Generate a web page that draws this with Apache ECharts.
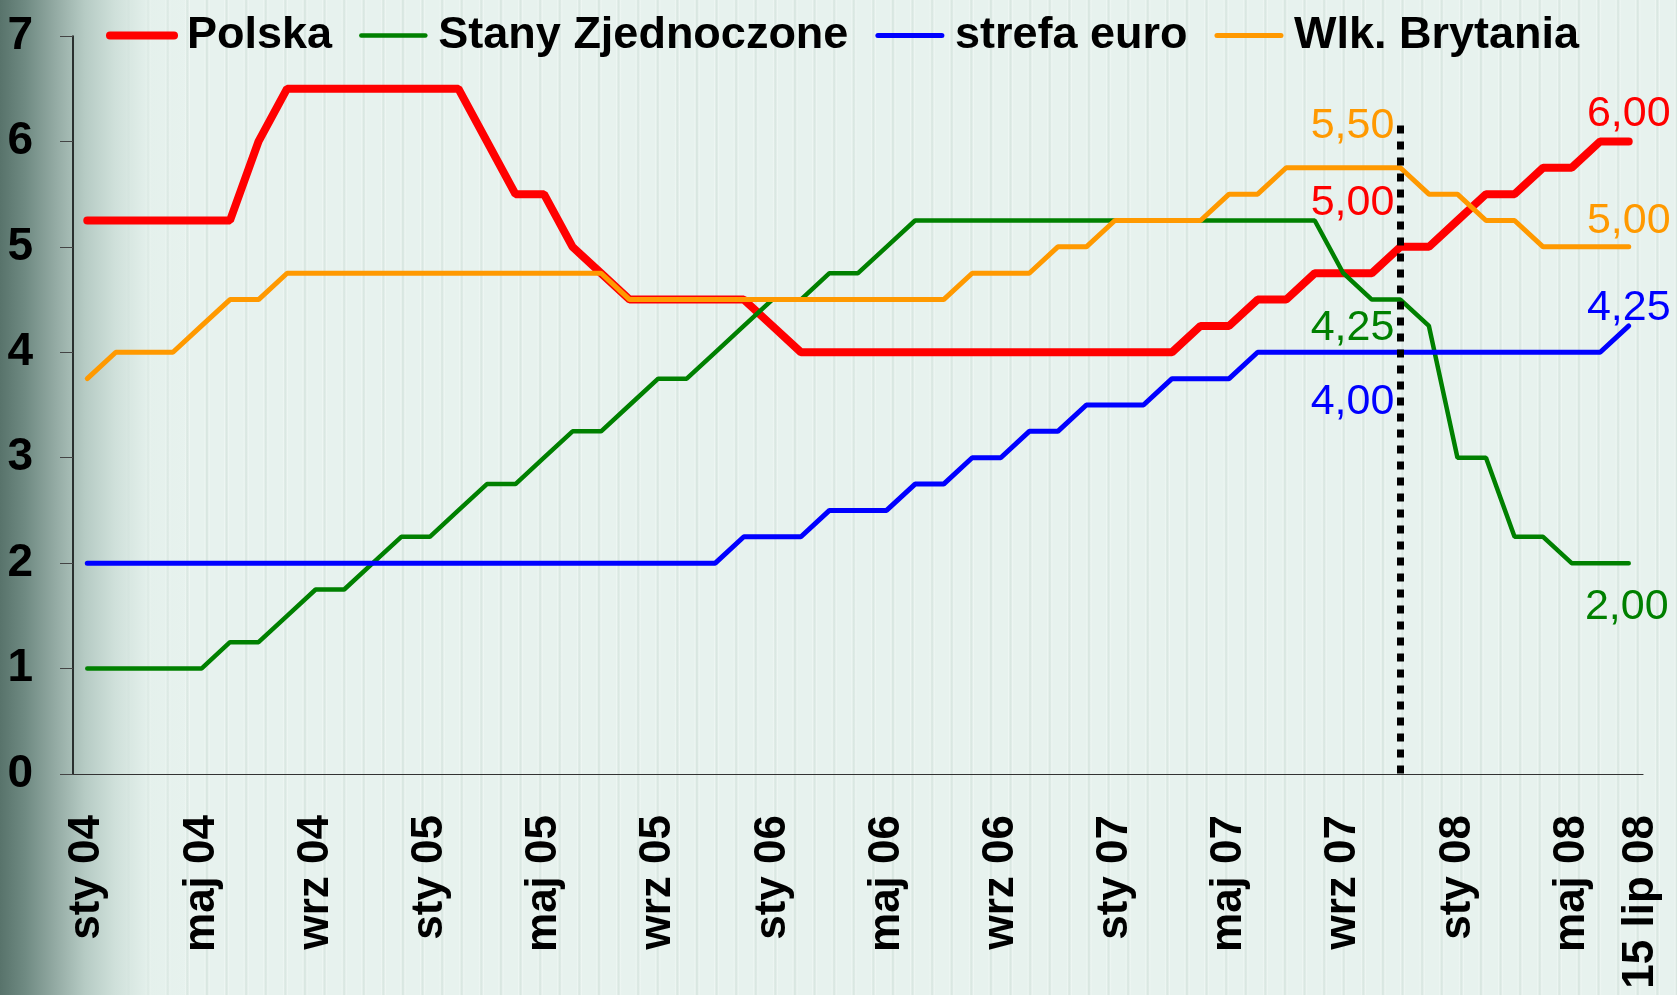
<!DOCTYPE html>
<html>
<head>
<meta charset="utf-8">
<script src="https://cdn.jsdelivr.net/npm/echarts@6/dist/echarts.min.js"></script>
<style>
html, body { margin: 0; padding: 0; }
#main {
    width: 1677px;
    height: 995px;
    background:
        linear-gradient(to right, #58736b 0px, #6f8a82 25px, #93aaa3 55px, #b6cbc4 85px, #cfe0da 115px, rgba(226,239,234,0.5) 150px, rgba(230,242,238,0) 190px),
        repeating-linear-gradient(to right, #e7f2ee 0px, #e7f2ee 8px, #eef6f3 9px, #d9e7e1 10.5px, #dbe8e3 11.5px, #eef6f3 13px, #e7f2ee 14px, #e7f2ee 19.6px);
}
</style>
</head>
<body>
<div id="main"></div>
<script>
var categories = [
    'sty 04','lut 04','mar 04','kwi 04','maj 04','cze 04','lip 04','sie 04','wrz 04','paź 04','lis 04','gru 04',
    'sty 05','lut 05','mar 05','kwi 05','maj 05','cze 05','lip 05','sie 05','wrz 05','paź 05','lis 05','gru 05',
    'sty 06','lut 06','mar 06','kwi 06','maj 06','cze 06','lip 06','sie 06','wrz 06','paź 06','lis 06','gru 06',
    'sty 07','lut 07','mar 07','kwi 07','maj 07','cze 07','lip 07','sie 07','wrz 07','paź 07','lis 07','gru 07',
    'sty 08','lut 08','mar 08','kwi 08','maj 08','cze 08','15 lip 08'
];

var polska = [5.25,5.25,5.25,5.25,5.25,5.25, 6.0, 6.5,6.5,6.5,6.5,6.5,6.5,6.5, 6.0, 5.5,5.5, 5.0, 4.75,
    4.5,4.5,4.5,4.5,4.5, 4.25, 4,4,4,4,4,4,4,4,4,4,4,4,4,4, 4.25,4.25, 4.5,4.5, 4.75,4.75,4.75,
    5.0,5.0, 5.25, 5.5,5.5, 5.75,5.75, 6.0,6.0];

var usa = [1,1,1,1,1, 1.25,1.25, 1.5, 1.75,1.75, 2.0, 2.25,2.25, 2.5, 2.75,2.75, 3.0, 3.25,3.25, 3.5,
    3.75,3.75, 4.0, 4.25, 4.5,4.5, 4.75,4.75, 5.0,
    5.25,5.25,5.25,5.25,5.25,5.25,5.25,5.25,5.25,5.25,5.25,5.25,5.25,5.25,5.25,
    4.75, 4.5,4.5, 4.25, 3.0,3.0, 2.25,2.25, 2,2,2];

var euro = [2,2,2,2,2,2,2,2,2,2,2,2,2,2,2,2,2,2,2,2,2,2,2, 2.25,2.25,2.25, 2.5,2.5,2.5, 2.75,2.75,
    3,3, 3.25,3.25, 3.5,3.5,3.5, 3.75,3.75,3.75, 4,4,4,4,4,4,4,4,4,4,4,4,4, 4.25];

var uk = [3.75, 4,4,4, 4.25, 4.5,4.5, 4.75,4.75,4.75,4.75,4.75,4.75,4.75,4.75,4.75,4.75,4.75,4.75,
    4.5,4.5,4.5,4.5,4.5,4.5,4.5,4.5,4.5,4.5,4.5,4.5, 4.75,4.75,4.75, 5,5, 5.25,5.25,5.25,5.25,
    5.5,5.5, 5.75,5.75,5.75,5.75,5.75, 5.5,5.5, 5.25,5.25, 5,5,5,5];

var seriesNames = ['Polska', 'Stany Zjednoczone', 'strefa euro', 'Wlk. Brytania'];
var seriesValues = [polska, usa, euro, uk];
var seriesColors = ['#ff0000', '#008000', '#0000ff', '#ff9900'];
var seriesWidths = [8, 4.5, 5, 5];

// annotations: [series index, category index, text]
var notes = [
    [3, 46, '5,50'], [0, 46, '5,00'], [1, 46, '4,25'], [2, 46, '4,00'],
    [0, 54, '6,00'], [3, 54, '5,00'], [2, 54, '4,25'], [1, 54, '2,00']
];
// label offsets for each annotation (pixels)
var noteOffsets = [[-6, -42], [-6, -44], [-6, 29], [-6, 50], [0, -27], [0, -26], [0, -18], [-2, 44]];

// the dotted marker: category index and top value
var markerIndex = 46;
var markerTop = 6.15;

var myChart = echarts.init(document.getElementById('main'));

var series = seriesNames.map(function (name, s) {
    var points = [];
    notes.forEach(function (n, k) {
        if (n[0] !== s) return;
        var left = n[1] === markerIndex;
        points.push({
            coord: [categories[n[1]], seriesValues[s][n[1]]],
            label: {
                formatter: n[2],
                position: 'inside',
                align: left ? 'right' : 'center',
                offset: noteOffsets[k]
            }
        });
    });
    var item = {
        name: name,
        type: 'line',
        data: seriesValues[s],
        symbol: 'none',
        showSymbol: false,
        color: seriesColors[s],
        lineStyle: { width: seriesWidths[s], color: seriesColors[s], cap: 'round' },
        markPoint: {
            symbol: 'circle',
            symbolSize: 1,
            silent: true,
            itemStyle: { color: 'rgba(0,0,0,0)' },
            label: {
                show: true,
                color: seriesColors[s],
                fontFamily: 'Liberation Sans',
                fontSize: 43
            },
            data: points
        }
    };
    if (s === seriesNames.length - 1) {
        item.markLine = {
            silent: true,
            symbol: 'none',
            label: { show: false },
            lineStyle: { color: '#000', width: 7, type: [8, 8] },
            data: [[
                { coord: [categories[markerIndex], markerTop] },
                { coord: [categories[markerIndex], 0] }
            ]]
        };
    }
    return item;
});

var labelFont = { fontFamily: 'Liberation Sans', fontWeight: 'bold', fontSize: 44, lineHeight: 44, color: '#000' };

var option = {
    animation: false,
    backgroundColor: 'transparent',
    grid: { left: 73, right: 34, top: 36, bottom: 221 },
    legend: {
        data: seriesNames,
        left: 101,
        top: 8,
        itemWidth: 64,
        itemHeight: 14,
        itemGap: 27,
        itemStyle: { color: 'rgba(0,0,0,0)', borderWidth: 0 },
        lineStyle: { width: 'inherit', cap: 'round' },
        textStyle: {
            fontFamily: 'Liberation Sans',
            fontWeight: 'bold',
            fontSize: 45,
            color: '#000',
            padding: [0, 0, 0, 8]
        }
    },
    xAxis: {
        type: 'category',
        data: categories,
        boundaryGap: true,
        axisLine: { lineStyle: { color: '#333', width: 1.2 } },
        axisTick: { interval: 1, length: 12, lineStyle: { color: '#333' } },
        axisLabel: {
            interval: function (i) { return i % 4 === 0 || i === categories.length - 1; },
            // the last label sits a little further right in the original
            formatter: function (v, i) {
                return i === categories.length - 1 ? '{g| }\n{t|' + v + '}' : v;
            },
            rich: {
                g: { fontSize: 10, lineHeight: 24 },
                t: labelFont
            },
            rotate: 90,
            margin: 41,
            fontFamily: labelFont.fontFamily,
            fontWeight: labelFont.fontWeight,
            fontSize: labelFont.fontSize,
            lineHeight: labelFont.lineHeight,
            color: labelFont.color
        },
        splitLine: { show: false }
    },
    yAxis: {
        type: 'value',
        min: 0,
        max: 7,
        interval: 1,
        axisLine: { show: true, lineStyle: { color: '#000', width: 1.5 } },
        axisTick: { show: true, length: 13, lineStyle: { color: '#444' } },
        axisLabel: {
            margin: 40,
            fontFamily: 'Liberation Sans',
            fontWeight: 'bold',
            fontSize: 46,
            color: '#000'
        },
        splitLine: { show: false }
    },
    series: series
};

myChart.setOption(option);
</script>
</body>
</html>
